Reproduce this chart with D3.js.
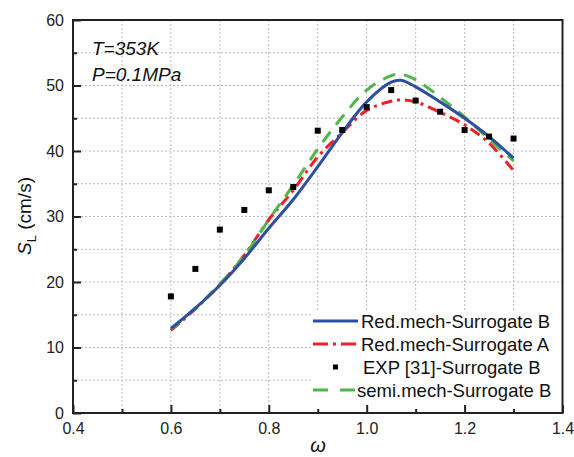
<!DOCTYPE html>
<html><head><meta charset="utf-8">
<script src="https://cdn.jsdelivr.net/npm/d3@7"></script>
<style>body{margin:0;background:#fff}svg{display:block}text{font-family:"Liberation Sans",Arial,sans-serif}</style>
</head><body>
<svg id="c" width="574" height="457"></svg>
<script>
const expX = [0.6,0.65,0.7,0.75,0.8,0.85,0.9,0.95,1.0,1.05,1.1,1.15,1.2,1.25,1.3];
const expY = [17.8,22.0,28.0,31.0,34.0,34.5,43.1,43.2,46.7,49.3,47.7,46.0,43.2,42.2,41.9];

const curveX = [0.6,0.65,0.7,0.75,0.8,0.85,0.9,0.95,1.0,1.05,1.07,1.1,1.15,1.2,1.25,1.3];
const blueY  = [12.9,16.0,19.5,23.6,28.2,32.6,37.6,42.8,47.5,50.5,50.8,49.8,47.5,45.0,42.2,38.9];
const redY   = [12.6,15.9,19.6,24.1,29.5,34.0,39.1,42.8,46.2,47.6,47.8,47.5,45.9,44.0,41.2,37.0];
const greenY = [12.8,16.0,19.7,24.0,29.5,34.8,40.3,45.2,49.3,51.5,51.7,50.9,48.2,45.2,41.8,38.5];

const xMajor = [0.4,0.6,0.8,1.0,1.2,1.4];
const xMinor = [0.5,0.7,0.9,1.1,1.3];
const yMajor = [0,10,20,30,40,50,60];
const yMinor = [5,15,25,35,45,55];

const legendLabels = ["Red.mech-Surrogate B","Red.mech-Surrogate A","EXP [31]-Surrogate B","semi.mech-Surrogate B"];

const svg = d3.select("#c");
const L=73, R=562.5, T=20, B=413;
const x = d3.scaleLinear().domain([0.4,1.4]).range([L,R]);
const y = d3.scaleLinear().domain([0,60]).range([B,T]);

// grid
const g = svg.append("g");
g.selectAll("line.vg").data(xMajor.concat(xMinor).filter(v=>v>0.4&&v<1.4)).enter().append("line")
  .attr("x1",d=>x(d)).attr("x2",d=>x(d)).attr("y1",T).attr("y2",B)
  .attr("stroke","#bdbdbd").attr("stroke-width",1).attr("stroke-dasharray","2,2");
g.selectAll("line.hg").data(yMajor.concat(yMinor).filter(v=>v>0&&v<60)).enter().append("line")
  .attr("y1",d=>y(d)).attr("y2",d=>y(d)).attr("x1",L).attr("x2",R)
  .attr("stroke","#bdbdbd").attr("stroke-width",1).attr("stroke-dasharray","2,2");

// curves
const line = (ys)=>d3.line().x((d,i)=>x(curveX[i])).y(d=>y(d)).curve(d3.curveCatmullRom.alpha(0.5))(ys);
svg.append("path").attr("d",line(redY)).attr("fill","none").attr("stroke","#ee2027").attr("stroke-width",3).attr("stroke-dasharray","11,5,3,5");
svg.append("path").attr("d",line(greenY)).attr("fill","none").attr("stroke","#4db848").attr("stroke-width",3).attr("stroke-dasharray","13,9");
svg.append("path").attr("d",line(blueY)).attr("fill","none").attr("stroke","#2d4fa3").attr("stroke-width",3);

// exp points
svg.selectAll("rect.exp").data(expX).enter().append("rect")
  .attr("x",(d)=>x(d)-3).attr("y",(d,i)=>y(expY[i])-3).attr("width",6).attr("height",6).attr("fill","#000");

// legend
const lg = svg.append("g");
lg.append("rect").attr("x",311).attr("y",311).attr("width",R-311).attr("height",B-311).attr("fill","#fff");
const ly = [321,344,367,390];
const styles = [
  {stroke:"#2d4fa3",dash:null},
  {stroke:"#ee2027",dash:"15,5,3,5"},
  null,
  {stroke:"#4db848",dash:"15,12"}
];
legendLabels.forEach((lab,i)=>{
  if(styles[i]){
    const ln = lg.append("line").attr("x1",313).attr("x2",358).attr("y1",ly[i]).attr("y2",ly[i])
      .attr("stroke",styles[i].stroke).attr("stroke-width",3);
    if(styles[i].dash) ln.attr("stroke-dasharray",styles[i].dash);
  } else {
    lg.append("rect").attr("x",333).attr("y",ly[i]-2.5).attr("width",5).attr("height",5).attr("fill","#000");
  }
  lg.append("text").attr("x",i===2?363:(i===3?357:361)).attr("y",ly[i]+6.5).attr("font-size",18.5).attr("fill","#111").text(lab);
});

// axes
const xAxis = d3.axisBottom(x).tickValues(xMajor).tickSize(-8).tickPadding(10).tickFormat(d3.format(".1f"));
svg.append("g").attr("transform",`translate(0,${B})`).call(xAxis);
svg.append("g").attr("transform",`translate(0,${B})`).call(d3.axisBottom(x).tickValues(xMinor).tickSize(-4).tickFormat(""));
const yAxis = d3.axisLeft(y).tickValues(yMajor).tickSize(-8).tickPadding(9).tickFormat(d3.format("d"));
svg.append("g").attr("transform",`translate(${L},0)`).call(yAxis);
svg.append("g").attr("transform",`translate(${L},0)`).call(d3.axisLeft(y).tickValues(yMinor).tickSize(-4).tickFormat(""));
svg.selectAll(".tick line").attr("stroke","#222").attr("stroke-width",2);
svg.selectAll(".domain").remove();
svg.selectAll(".tick text").attr("font-size",16).attr("fill","#222").attr("font-family","'Liberation Sans',Arial,sans-serif");
// frame
svg.append("rect").attr("x",L).attr("y",T).attr("width",R-L).attr("height",B-T)
  .attr("fill","none").attr("stroke","#222").attr("stroke-width",2);

// annotations
svg.append("text").attr("x",92).attr("y",55).attr("font-size",19).attr("font-style","italic").attr("fill","#111").text("T=353K");
svg.append("text").attr("x",92).attr("y",81).attr("font-size",19).attr("font-style","italic").attr("fill","#111").text("P=0.1MPa");

// axis titles
const yl = svg.append("text").attr("transform","translate(31,216) rotate(-90)").attr("text-anchor","middle").attr("font-size",19).attr("fill","#111");
yl.append("tspan").attr("font-style","italic").text("S");
yl.append("tspan").attr("font-size",13).attr("dy",5).text("L");
yl.append("tspan").attr("dy",-5).text(" (cm/s)");
svg.append("text").attr("x",318).attr("y",452).attr("text-anchor","middle").attr("font-size",20).attr("font-style","italic").attr("fill","#111").text("ω");
</script>
</body></html>
